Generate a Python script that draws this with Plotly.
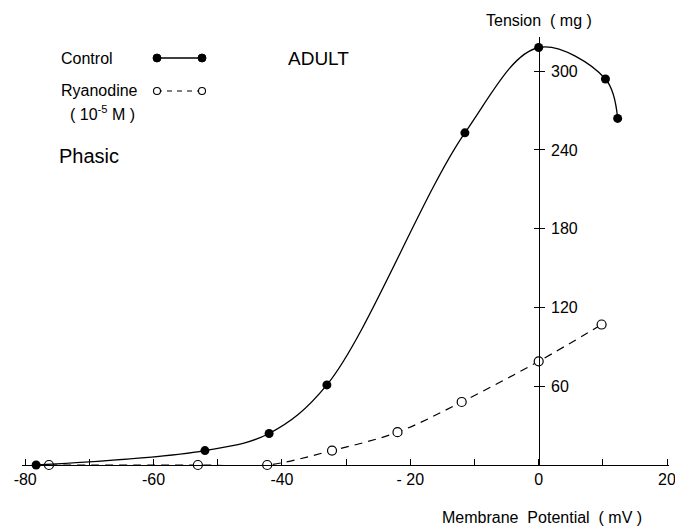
import plotly.graph_objects as go

# Data (membrane potential mV, tension mg)
control_mv = [-78.3, -52, -42, -33, -11.5, 0, 10.4, 12.3]
control_mg = [0, 11, 24, 61, 253, 318, 294, 264]
ryan_mv = [-76.3, -53.1, -42.3, -32.2, -22, -12, 0, 9.8]
ryan_mg = [0, 0, 0, 11, 25, 48, 79, 107]

x_major = [-80, -60, -40, -20, 0]
x_labels = ["-80", "-60", "-40", "- 20", "0"]
x_edge_val, x_edge_label = 20, "20"
x_minor = [-80, -70, -60, -50, -40, -30, -20, -10, 0, 10, 20]
y_ticks = [60, 120, 180, 240, 300]
y_labels = ["60", "120", "180", "240", "300"]

W, H = 675, 526
L, R, T, B = 22, 6, 37, 61
XR = [-80.5, 20.3]
YR = [0, 326]
FONT = "Liberation Sans"

fig = go.Figure()
fig.add_trace(go.Scatter(x=ryan_mv, y=ryan_mg, mode="lines+markers",
                         line=dict(color="black", width=1.2, dash="8px,6px", shape="spline", smoothing=1.0),
                         marker=dict(symbol="circle", size=9, color="white", line=dict(color="black", width=1.2)),
                         cliponaxis=False, showlegend=False))
fig.add_trace(go.Scatter(x=control_mv, y=control_mg, mode="lines+markers",
                         line=dict(color="black", width=1.3, shape="spline", smoothing=1.0),
                         marker=dict(symbol="circle", size=9, color="black"),
                         cliponaxis=False, showlegend=False))

ypos = (0 - XR[0]) / (XR[1] - XR[0])

fig.update_layout(
    width=W, height=H, margin=dict(l=L, r=R, t=T, b=B, autoexpand=False),
    paper_bgcolor="white", plot_bgcolor="white",
    font=dict(family=FONT, color="black", size=16),
    xaxis=dict(range=XR, tickvals=x_major, ticktext=x_labels, ticks="inside", ticklen=6,
               tickcolor="black", showline=True, linecolor="black", linewidth=1.3,
               minor=dict(tickvals=x_minor, ticks="inside", ticklen=6, tickcolor="black"),
               showgrid=False, zeroline=False, tickfont=dict(size=16), automargin=False),
    yaxis=dict(range=YR, tickvals=y_ticks, ticktext=y_labels, anchor="free", position=ypos,
               side="right", ticks="outside", ticklen=5, tickcolor="black",
               showline=True, linecolor="black", linewidth=1.3, showgrid=False, zeroline=False,
               tickfont=dict(size=16), ticklabelstandoff=3, automargin=False),
    yaxis2=dict(range=YR, overlaying="y", anchor="free", position=ypos, side="left",
                tickvals=y_ticks, showticklabels=False, ticks="outside", ticklen=5,
                tickcolor="black", showline=False, showgrid=False, zeroline=False, automargin=False),
)
# dummy trace to activate yaxis2
fig.add_trace(go.Scatter(x=[None], y=[None], yaxis="y2", showlegend=False))

def px(x):
    return (x - L) / (W - L - R)

def py(y):
    return (H - B - y) / (H - T - B)

def note(text, x, y, size, xanchor="left", xref="paper"):
    return dict(text=text, x=x if xref == "x" else px(x), xref=xref, y=py(y), yref="paper",
                xanchor=xanchor, yanchor="middle", showarrow=False, font=dict(size=size))

ann = [
    note(x_edge_label, x_edge_val, 479, 16, xanchor="center", xref="x"),
    note("Tension  ( mg )", 0, 20, 16, xanchor="center", xref="x"),
    note("Membrane  Potential  ( mV )", 542, 517, 16, xanchor="center"),
    note("Control", 59, 58, 16),
    note("Ryanodine", 59, 90, 16),
    note("( 10<sup>-5</sup> M )", 68, 113, 16),
    note("ADULT", 286, 58, 19),
    note("Phasic", 57, 156, 20),
]
fig.update_layout(annotations=ann)

shapes = [
    dict(type="line", xref="paper", yref="paper", x0=px(157), x1=px(202), y0=py(58), y1=py(58), line=dict(color="black", width=1.3)),
    dict(type="line", xref="paper", yref="paper", x0=px(157), x1=px(202), y0=py(91), y1=py(91), line=dict(color="black", width=1.2, dash="5px,5px")),
]
for cx in (157, 202):
    shapes.append(dict(type="circle", xref="paper", yref="paper", x0=px(cx - 4), x1=px(cx + 4), y0=py(58 - 4), y1=py(58 + 4),
                       fillcolor="black", line=dict(color="black", width=1)))
    shapes.append(dict(type="circle", xref="paper", yref="paper", x0=px(cx - 3.5), x1=px(cx + 3.5), y0=py(91 - 3.5), y1=py(91 + 3.5),
                       fillcolor="white", line=dict(color="black", width=1.1), layer="above"))
fig.update_layout(shapes=shapes)

fig.write_html("out.html")
